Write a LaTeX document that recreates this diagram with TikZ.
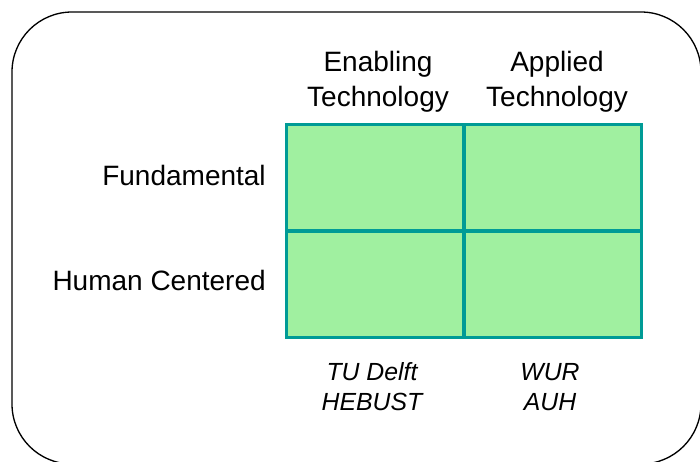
\documentclass[tikz,border=0pt]{standalone}
\usepackage{fontspec}
\setmainfont{Liberation Sans}
\definecolor{gridteal}{RGB}{0,155,150}
\definecolor{cellgreen}{RGB}{160,240,160}
\begin{document}
\begin{tikzpicture}[x=0.75pt,y=-0.75pt,
  frame/.style={draw=black, line width=1pt, rounded corners=45pt},
  cell/.style={draw=gridteal, fill=cellgreen, line width=2.5pt, minimum width=133.1pt, minimum height=79.95pt, inner sep=0pt, outer sep=0pt, anchor=north west},
  head/.style={font=\fontsize{21}{25}\selectfont, inner sep=0pt, anchor=base},
  rowlab/.style={font=\fontsize{21}{25}\selectfont, inner sep=0pt, anchor=base east},
  inst/.style={font=\fontsize{18.6}{22}\selectfont\itshape, inner sep=0pt, anchor=base}]
\useasboundingbox (0,0) rectangle (700,461);
\draw[frame] (12,12) rectangle (701,464);
% grid cells
\node[cell] (c11) at (286.5,124.5) {};
\node[cell] (c12) at (464,124.5) {};
\node[cell] (c21) at (286.5,231.1) {};
\node[cell] (c22) at (464,231.1) {};
% column headings
\node[head] (h1a) at (378,71.7) {Enabling};
\node[head] (h1b) at (378,106.2) {Technology};
\node[head] (h2a) at (557,71.7) {Applied};
\node[head] (h2b) at (557,106.2) {Technology};
% row labels
\node[rowlab] (r1) at (266,185) {Fundamental};
\node[rowlab] (r2) at (266,290) {Human Centered};
% institutions
\node[inst] (i1a) at (372,380.7) {TU Delft};
\node[inst] (i1b) at (372,410) {HEBUST};
\node[inst] (i2a) at (550,380.7) {WUR};
\node[inst] (i2b) at (550,410) {AUH};
\end{tikzpicture}
\end{document}
